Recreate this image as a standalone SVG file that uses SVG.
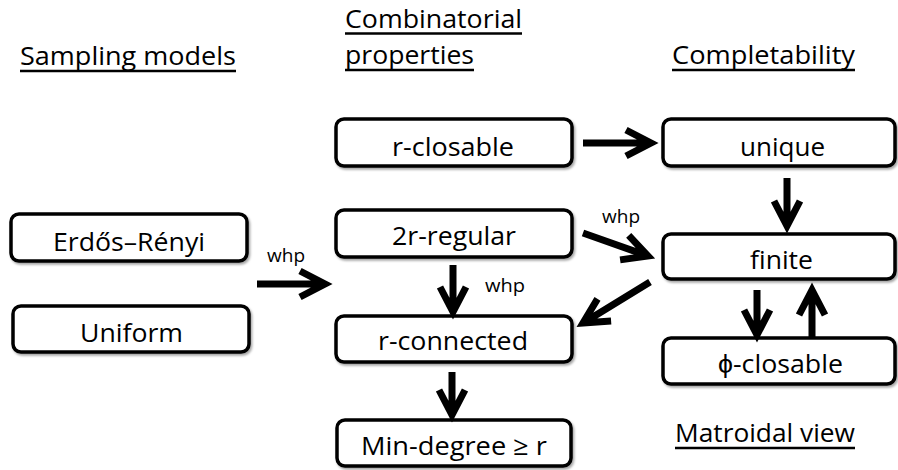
<svg xmlns="http://www.w3.org/2000/svg" width="898" height="470" viewBox="0 0 898 470">
<defs>
<filter id="sh" x="-10%" y="-20%" width="120%" height="150%">
<feDropShadow dx="1.5" dy="2" stdDeviation="1.2" flood-color="#000" flood-opacity="0.35"/>
</filter>
<style>
.box{fill:#fff;stroke:#000;stroke-width:3.5;filter:url(#sh)}
.nt{font-family:"Open Sans","Liberation Sans",sans-serif;font-size:26px;fill:#000}
.hd{font-family:"Open Sans","Liberation Sans",sans-serif;font-size:26px;fill:#000}
.ul{stroke:#000;stroke-width:2.5}
.lb{font-family:"Open Sans","Liberation Sans",sans-serif;font-size:18px;fill:#000}
.arr{fill:none;stroke:#000;stroke-width:7;stroke-linejoin:miter;stroke-miterlimit:10}
</style>
</defs>
<rect width="898" height="470" fill="#fff"/>

<g id="heading-sampling">
<text class="hd" x="20" y="65" textLength="216" lengthAdjust="spacingAndGlyphs">Sampling models</text>
<line class="ul" x1="20" y1="71" x2="236" y2="71"/>
</g>
<g id="heading-combinatorial">
<text class="hd" x="345" y="28" textLength="177" lengthAdjust="spacingAndGlyphs">Combinatorial</text>
<line class="ul" x1="345" y1="33.5" x2="522" y2="33.5"/>
<text class="hd" x="345" y="64" textLength="129" lengthAdjust="spacingAndGlyphs">properties</text>
<line class="ul" x1="345" y1="70" x2="474" y2="70"/>
</g>
<g id="heading-completability">
<text class="hd" x="672" y="64" textLength="183" lengthAdjust="spacingAndGlyphs">Completability</text>
<line class="ul" x1="672" y1="70" x2="855" y2="70"/>
</g>
<g id="heading-matroidal">
<text class="hd" x="675" y="442" textLength="180" lengthAdjust="spacingAndGlyphs">Matroidal view</text>
<line class="ul" x1="675" y1="448" x2="855" y2="448"/>
</g>

<g id="erdos-renyi">
<rect class="box" x="11" y="214" width="236" height="47" rx="8"/>
<text class="nt" x="53" y="251" textLength="152" lengthAdjust="spacingAndGlyphs">Erdős–Rényi</text>
</g>
<g id="uniform">
<rect class="box" x="13" y="306" width="236" height="46" rx="8"/>
<text class="nt" x="80" y="342" textLength="103" lengthAdjust="spacingAndGlyphs">Uniform</text>
</g>
<g id="r-closable">
<rect class="box" x="336" y="119" width="236" height="47" rx="8"/>
<text class="nt" x="392" y="156" textLength="122" lengthAdjust="spacingAndGlyphs">r-closable</text>
</g>
<g id="2r-regular">
<rect class="box" x="336" y="210" width="236" height="47" rx="8"/>
<text class="nt" x="392" y="245" textLength="124" lengthAdjust="spacingAndGlyphs">2r-regular</text>
</g>
<g id="r-connected">
<rect class="box" x="336" y="316" width="236" height="46" rx="8"/>
<text class="nt" x="378" y="350" textLength="150" lengthAdjust="spacingAndGlyphs">r-connected</text>
</g>
<g id="min-degree">
<rect class="box" x="337" y="420" width="234" height="46" rx="8"/>
<text class="nt" x="361" y="455" textLength="186" lengthAdjust="spacingAndGlyphs">Min-degree ≥ r</text>
</g>
<g id="unique">
<rect class="box" x="663" y="119" width="232" height="47" rx="8"/>
<text class="nt" x="740" y="156" textLength="85" lengthAdjust="spacingAndGlyphs">unique</text>
</g>
<g id="finite">
<rect class="box" x="663" y="234" width="232" height="45" rx="8"/>
<text class="nt" x="750" y="269" textLength="63" lengthAdjust="spacingAndGlyphs">finite</text>
</g>
<g id="phi-closable">
<rect class="box" x="663" y="338" width="232" height="46" rx="8"/>
<text class="nt" x="718" y="373" textLength="125" lengthAdjust="spacingAndGlyphs">ϕ-closable</text>
</g>

<g id="connectors">
<path class="arr" d="M257,284 L321,284 M300,271 L325,284 L300,297"/>
<text class="lb" x="267" y="262" textLength="38" lengthAdjust="spacingAndGlyphs">whp</text>
<path class="arr" d="M583,143 L647,143 M626,130 L651,143 L626,156"/>
<path class="arr" d="M787,178 L787,222 M774,201 L787,226 L800,201"/>
<path class="arr" d="M583,233 L644,254.6 M628.7,235.4 L648,256 L620.1,259.9"/>
<text class="lb" x="602" y="223" textLength="38" lengthAdjust="spacingAndGlyphs">whp</text>
<path class="arr" d="M650,282 L586.4,320.9 M597.5,298.9 L583,323 L611.1,321"/>
<path class="arr" d="M453,265 L453,308 M440,287 L453,312 L466,287"/>
<text class="lb" x="485" y="292" textLength="40" lengthAdjust="spacingAndGlyphs">whp</text>
<path class="arr" d="M452,372 L452,411 M439,390 L452,415 L465,390"/>
<path class="arr" d="M757,290 L757,331 M744,310 L757,335 L770,310"/>
<path class="arr" d="M812,337 L812,294 M799,315 L812,290 L825,315"/>
</g>
</svg>
